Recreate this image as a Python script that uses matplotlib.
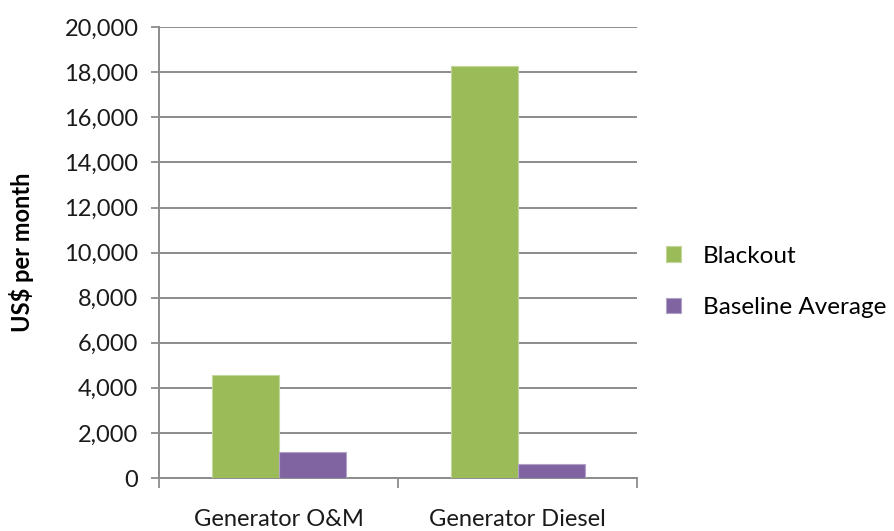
import numpy as np
import matplotlib
import matplotlib.pyplot as plt
from matplotlib.ticker import FuncFormatter

matplotlib.use('Agg')

# Datos
categorias = ['Generator O&M', 'Generator Diesel']
blackout = [4570, 18300]
baseline = [1140, 610]
series = ['Blackout', 'Baseline Average']
colores = ['#9BBB59', '#8064A2']

plt.rcParams['font.family'] = ['Lato', 'DejaVu Sans']

fig = plt.figure(figsize=(8.95, 5.31), dpi=100)
ax = fig.add_axes([0.178, 0.0998, 0.534, 0.849])

x = np.arange(len(categorias))
ancho = 0.28
ax.bar(x - ancho / 2, blackout, ancho, color=colores[0], edgecolor='#C3D69B',
       linewidth=0.8, label=series[0], zorder=3)
ax.bar(x + ancho / 2, baseline, ancho, color=colores[1], edgecolor='#B3A2C7',
       linewidth=0.8, label=series[1], zorder=3)

ax.set_xlim(-0.5, 1.5)
ax.set_ylim(0, 20000)
ax.set_yticks(range(0, 20001, 2000))
ax.yaxis.set_major_formatter(FuncFormatter(lambda v, p: f'{int(v):,}'))
ax.yaxis.grid(True, color='#8C8C8C', linewidth=1.4, zorder=0)

# marcas del eje x entre categorias
ax.set_xticks([-0.5, 0.5, 1.5])
ax.set_xticklabels([])
ax.set_xticks(x, minor=True)
ax.set_xticklabels(categorias, minor=True)
ax.tick_params(axis='x', which='minor', length=0, pad=22, labelsize=17,
               labelcolor='#1a1a1a')
ax.tick_params(axis='x', which='major', length=7, width=1.3, color='#8C8C8C')
ax.tick_params(axis='y', length=6, width=1.3, color='#8C8C8C', labelsize=17,
               labelcolor='#1a1a1a', pad=9)

for lado in ['top', 'right']:
    ax.spines[lado].set_visible(False)
for lado in ['left', 'bottom']:
    ax.spines[lado].set_color('#8C8C8C')
    ax.spines[lado].set_linewidth(1.4)

ax.set_ylabel('US\\$ per month', fontsize=17, fontweight='bold', labelpad=22)

ax.legend(loc='center left', bbox_to_anchor=(1.015, 0.435), frameon=False,
          fontsize=17.5, handlelength=0.6, handleheight=0.6, handletextpad=0.9,
          labelspacing=1.25)

plt.savefig('out.png', dpi=100)
